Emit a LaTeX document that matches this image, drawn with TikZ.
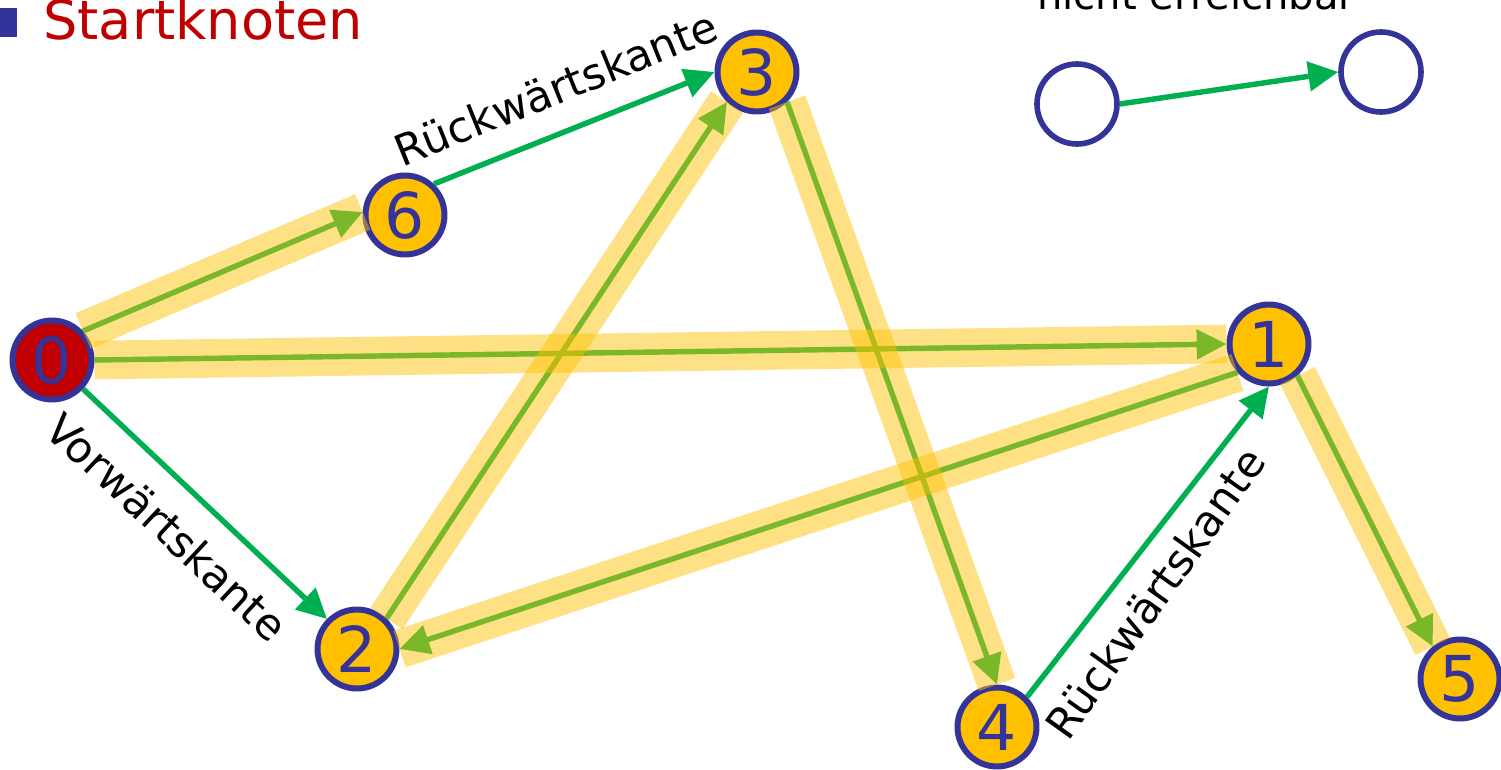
\documentclass[tikz,border=0pt]{standalone}
\usepackage{fontspec}
\setmainfont{DejaVu Sans}
\usepackage{tikz}
\usetikzlibrary{arrows.meta,positioning}

\definecolor{knotenblau}{HTML}{333399}
\definecolor{knotengelb}{HTML}{FFC000}
\definecolor{kantengruen}{HTML}{00B050}
\definecolor{startrot}{HTML}{C00000}

\tikzset{
    knoten/.style={circle, draw=knotenblau, line width=3.4pt, fill=knotengelb, minimum size=1.58cm,
        inner sep=0pt, text=knotenblau, font=\fontsize{36}{40}\selectfont},
    leer/.style={circle, draw=knotenblau, line width=3.2pt, minimum size=1.6cm, inner sep=0pt},
    kante/.style={draw=kantengruen, line width=3.1pt, -{Triangle[length=17pt,width=16.5pt]}},
    baum/.style={draw=knotengelb, draw opacity=0.48, line width=22pt},
    etikett/.style={inner sep=0pt, font=\fontsize{24.5}{29}\selectfont}
}

\begin{document}
\begin{tikzpicture}[x=0.02cm, y=-0.02cm]
            \useasboundingbox (0,0) rectangle (1501,770);

            % Legend at the top
            \fill[knotenblau] (-12,8) rectangle (17,37);
            \node[anchor=base west, inner sep=0pt, text=startrot, font=\fontsize{30.8}{36}\selectfont] (start) at (43,40) {Startknoten};
            \node[anchor=base west, inner sep=0pt, font=\fontsize{22.8}{27}\selectfont] (nicht) at (1037,10) {nicht erreichbar};

            % Graph nodes
            \node[knoten, fill=startrot] (n0) at (52,360) {0};
            \node[knoten] (n6) at (405,215) {6};
            \node[knoten] (n3) at (757,72) {3};
            \node[knoten] (n1) at (1269,344) {1};
            \node[knoten] (n2) at (357,649) {2};
            \node[knoten] (n4) at (997,727) {4};
            \node[knoten] (n5) at (1460,679) {5};
            \node[leer] (na) at (1077,104) {};
            \node[leer] (nb) at (1381,72) {};

            % Edges (tree and non-tree)
            \draw[kante] (n0.43) -- (n6.176);
            \draw[kante] (n0.east) -- (n1.west);
            \draw[kante] (n0.-43) -- (n2.135);
            \draw[kante] (n6.47) -- (n3.180);
            \draw[kante] (n2.46) -- (n3.225);
            \draw[kante] (n3.-45) -- (n4.90);
            \draw[kante] (n1.222) -- (n2.0);
            \draw[kante] (n1.-48) -- (n5.130);
            \draw[kante] (n4.45) -- (n1.-90);
            \draw[kante] (na.east) -- (nb.west);

            % DFS tree highlighted
            \draw[baum] (n0.43) -- (n6.176);
            \draw[baum] (n0.east) -- (n1.west);
            \draw[baum] (n2.46) -- (n3.225);
            \draw[baum] (n3.-45) -- (n4.90);
            \draw[baum] (n1.222) -- (n2.0);
            \draw[baum] (n1.-48) -- (n5.130);

            % Edge labels
            \node[etikett, rotate=-43] (vor) at (167,527) {Vorwärtskante};
            \node[etikett, rotate=22] (rueckA) at (556,88) {Rückwärtskante};
            \node[etikett, rotate=54.5] (rueckB) at (1155,593) {Rückwärtskante};
        \end{tikzpicture}
\end{document}
